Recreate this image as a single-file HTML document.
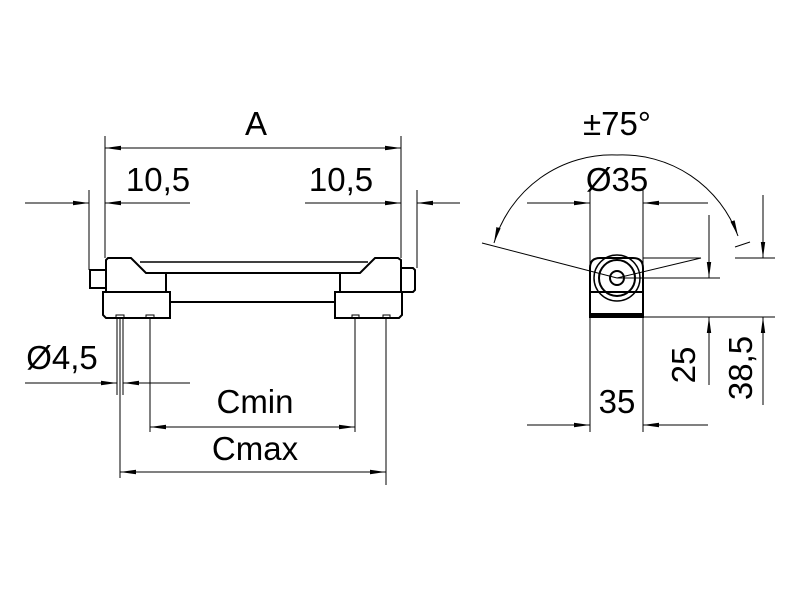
<!DOCTYPE html>
<html><head><style>
html,body{margin:0;padding:0;background:#fff;}
svg{display:block;}
text{font-family:"Liberation Sans",sans-serif;font-size:33px;fill:#000;}
</style></head><body>
<svg width="800" height="600" viewBox="0 0 800 600" xmlns="http://www.w3.org/2000/svg">
<defs>
<marker id="ar" viewBox="0 0 16 6" refX="16" refY="3" markerWidth="16" markerHeight="6" orient="auto" markerUnits="userSpaceOnUse">
<path d="M0,0.8 L16,3 L0,5.2 Z" fill="#000"/></marker>
</defs>
<g stroke="#000" stroke-width="1" fill="none">
<line x1="105" y1="136" x2="105" y2="258"/>
<line x1="401" y1="136" x2="401" y2="258"/>
<line x1="89" y1="190" x2="89" y2="270"/>
<line x1="417" y1="190" x2="417" y2="268"/>
<line x1="253" y1="148" x2="105" y2="148" marker-end="url(#ar)"/>
<line x1="253" y1="148" x2="401" y2="148" marker-end="url(#ar)"/>
<line x1="25" y1="203" x2="89" y2="203" marker-end="url(#ar)"/>
<line x1="190" y1="203" x2="105" y2="203" marker-end="url(#ar)"/>
<line x1="305" y1="203" x2="401" y2="203" marker-end="url(#ar)"/>
<line x1="460" y1="203" x2="417" y2="203" marker-end="url(#ar)"/>
<g stroke-width="2">
<path d="M106,292 L106,260 L108,258 L131,258 L146,273 L360,273 L375,258 L398,258 L401,260 L401,292"/>
<line x1="140" y1="262" x2="368" y2="262" stroke-width="1.5"/>
<rect x="90" y="270" width="16" height="18"/>
<path d="M401,268 L413,268 L415,270 L415,290 L413,292 L401,292"/>
<line x1="166" y1="273" x2="166" y2="292"/>
<line x1="340" y1="273" x2="340" y2="292"/>
<path d="M103,292 L170,292 L170,318 L106,318 L103,315 Z"/>
<path d="M335,292 L402,292 L402,315 L399,318 L335,318 Z"/>
<line x1="170" y1="302" x2="335" y2="302"/>
</g>
<path d="M116,318 v-3 h8 v3 M146,318 v-3 h8 v3 M352,318 v-3 h7 v3 M383,318 v-3 h7 v3"/>
<line x1="117" y1="318" x2="117" y2="395"/>
<line x1="120" y1="318" x2="120" y2="478"/>
<line x1="123" y1="318" x2="123" y2="395"/>
<line x1="150" y1="318" x2="150" y2="432"/>
<line x1="355" y1="318" x2="355" y2="432"/>
<line x1="386" y1="318" x2="386" y2="485"/>
<line x1="25" y1="383" x2="117" y2="383" marker-end="url(#ar)"/>
<line x1="190" y1="383" x2="123" y2="383" marker-end="url(#ar)"/>
<line x1="252" y1="427" x2="150" y2="427" marker-end="url(#ar)"/>
<line x1="252" y1="427" x2="355" y2="427" marker-end="url(#ar)"/>
<line x1="253" y1="472" x2="120" y2="472" marker-end="url(#ar)"/>
<line x1="253" y1="472" x2="386" y2="472" marker-end="url(#ar)"/>

<line x1="590" y1="190" x2="590" y2="432"/>
<line x1="643" y1="190" x2="643" y2="432"/>
<line x1="527" y1="203" x2="590" y2="203" marker-end="url(#ar)"/>
<line x1="708" y1="203" x2="643" y2="203" marker-end="url(#ar)"/>
<line x1="527" y1="425" x2="590" y2="425" marker-end="url(#ar)"/>
<line x1="708" y1="425" x2="643" y2="425" marker-end="url(#ar)"/>
<path d="M617,155 A123,123 0 0 0 494,243" marker-end="url(#ar)"/>
<path d="M617,155 A123,123 0 0 1 738,236" marker-end="url(#ar)"/>
<line x1="735" y1="247" x2="750" y2="242"/>
<line x1="482" y1="243" x2="617" y2="278"/>
<line x1="617" y1="278" x2="701" y2="258"/>
<g stroke-width="2">
<path d="M590,292 L590,268 Q590,258 600,258 L633,258 Q643,258 643,268 L643,292"/>
<circle cx="617" cy="278" r="23" stroke-width="1.5"/>
<circle cx="617" cy="278" r="18"/>
<circle cx="617" cy="278" r="7"/>
<rect x="590" y="292" width="53" height="25"/>
<line x1="590" y1="314.5" x2="643" y2="314.5" stroke-width="3"/>
</g>
<line x1="643" y1="258" x2="701" y2="258"/>
<line x1="617" y1="278" x2="720" y2="278"/>
<line x1="643" y1="317" x2="775" y2="317"/>
<line x1="735" y1="258" x2="775" y2="258"/>
<line x1="709" y1="215" x2="709" y2="278" marker-end="url(#ar)"/>
<line x1="709" y1="385" x2="709" y2="317" marker-end="url(#ar)"/>
<line x1="763" y1="195" x2="763" y2="258" marker-end="url(#ar)"/>
<line x1="763" y1="405" x2="763" y2="317" marker-end="url(#ar)"/>
</g>
<text x="256" y="135" text-anchor="middle">A</text>
<text x="158" y="191" text-anchor="middle">10,5</text>
<text x="341" y="191" text-anchor="middle">10,5</text>
<text x="62" y="369" text-anchor="middle">Ø4,5</text>
<text x="255" y="413" text-anchor="middle">Cmin</text>
<text x="255" y="460" text-anchor="middle">Cmax</text>
<text x="617" y="135" text-anchor="middle">±75°</text>
<text x="617" y="191" text-anchor="middle">Ø35</text>
<text x="617" y="413" text-anchor="middle">35</text>
<text transform="translate(695,365) rotate(-90)" text-anchor="middle">25</text>
<text transform="translate(752,368) rotate(-90)" text-anchor="middle">38,5</text>
</svg>
</body></html>
